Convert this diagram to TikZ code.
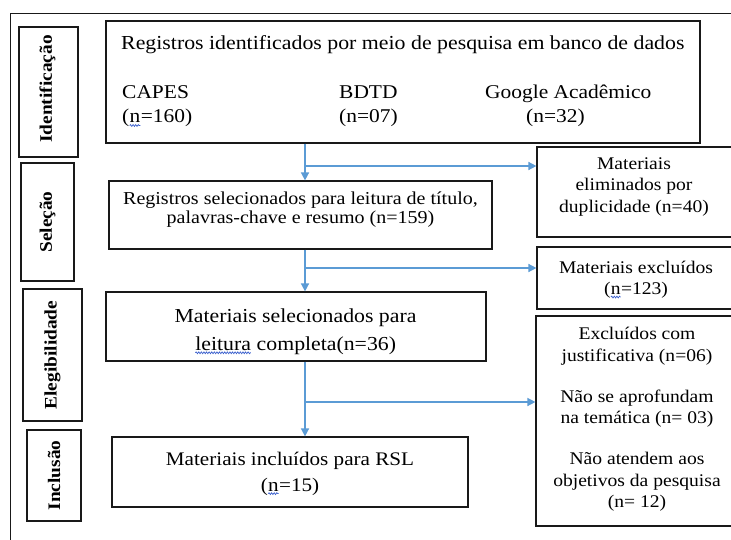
\documentclass[tikz,border=0pt]{standalone}
\usepackage{fontspec}
\setmainfont{Liberation Serif}[FakeStretch=1.1]
\usetikzlibrary{arrows.meta,decorations.pathmorphing}
\definecolor{arrowblue}{HTML}{5B9BD5}
\definecolor{squigblue}{HTML}{3A5FCD}
\newcommand\squig[2]{\tikz[baseline=(#1.base)]{\node[inner sep=0pt,outer sep=0pt] (#1) {#2};
  \draw[squigblue, line width=0.7pt, decorate, decoration={snake, amplitude=0.9pt, segment length=2.6pt}]
    ([yshift=-2.5pt]#1.base west) -- ([yshift=-2.5pt]#1.base east);}}
\begin{document}
\begin{tikzpicture}[x=1pt,y=-1pt,
  box/.style={draw=black!90, line width=1.2pt, inner sep=0pt},
  sidetxt/.style={rotate=90, inner sep=0pt, font=\fontsize{17.6}{20}\selectfont\bfseries},
  flow/.style={draw=arrowblue, line width=1.5pt, -{Triangle[length=8pt,width=8pt]}},
  txa/.style={inner sep=0pt, anchor=base west, font=\fontsize{19.5}{22}\selectfont},
  txh/.style={inner sep=0pt, anchor=base west, font=\fontsize{19.85}{22}\selectfont},
  txb/.style={inner sep=0pt, align=center, font=\fontsize{18.2}{19}\selectfont},
  txc/.style={inner sep=0pt, align=center, font=\fontsize{19.8}{28}\selectfont},
  txd/.style={inner sep=0pt, align=center, font=\fontsize{19.2}{26}\selectfont},
  txr/.style={inner sep=0pt, align=center, font=\fontsize{17.8}{21.5}\selectfont}]
\useasboundingbox (0,0) rectangle (731,540);
\clip (0,0) rectangle (731,540);
\fill[white] (0,0) rectangle (731,540);

% outer frame (right and bottom edges fall outside the picture)
\node[box, anchor=north west, minimum width=800pt, minimum height=600pt] (frame) at (10,13) {};

% stage labels
\node[box, minimum width=59pt, minimum height=130pt] (s1) at (48.5,92) {};
\node[sidetxt] (s1t) at (47.5,89) {Identificação};
\node[box, minimum width=53pt, minimum height=118pt] (s2) at (47.5,222) {};
\node[sidetxt] (s2t) at (s2.center) {Seleção};
\node[box, minimum width=59pt, minimum height=132pt] (s3) at (52.5,355) {};
\node[sidetxt] (s3t) at (s3.center) {Elegibilidade};
\node[box, minimum width=54pt, minimum height=91pt] (s4) at (54,475.5) {};
\node[sidetxt] (s4t) at (s4.center) {Inclusão};

% main flow boxes
\node[box, minimum width=594pt, minimum height=122pt] (b1) at (403,82) {};
\node[txh] (b1h) at (121,49.5) {Registros identificados por meio de pesquisa em banco de dados};
\node[txa] (c1) at (122,99) {CAPES};
\node[txa] (c1n) at (122,123) {(\squig{q1}{n}=160)};
\node[txa] (c2) at (339,99) {BDTD};
\node[txa] (c2n) at (339,123) {(n=07)};
\node[txa] (c3) at (485,99) {Google Acadêmico};
\node[txa] (c3n) at (526,123) {(n=32)};

\node[box, minimum width=383pt, minimum height=68pt] (b2) at (300.5,215) {};
\node[txb] (b2t) at (300.5,209.5) {Registros selecionados para leitura de título,\\palavras-chave e resumo (n=159)};

\node[box, minimum width=380pt, minimum height=69pt] (b3) at (296,326.5) {};
\node[txc] (b3t) at (295.5,331.5) {Materiais selecionados para\\\squig{q2}{leitura} completa(n=36)};

\node[box, minimum width=356pt, minimum height=70pt] (b4) at (290,472) {};
\node[txd] (b4t) at (290,473.5) {Materiais incluídos para RSL\\(\squig{q3}{n}=15)};

% exclusion boxes (right edges fall outside the picture)
\node[box, minimum width=198pt, minimum height=90pt] (r1) at (636,192) {};
\node[txr] (r1t) at (634,187) {Materiais\\eliminados por\\duplicidade (n=40)};
\node[box, minimum width=198pt, minimum height=62pt] (r2) at (636,278) {};
\node[txr] (r2t) at (636,279.5) {Materiais excluídos\\(\squig{q4}{n}=123)};
\node[box, minimum width=199pt, minimum height=210pt] (r3) at (635.5,421) {};
\node[txr] (r3t) at (637,419.5) {Excluídos com\\justificativa (n=06)\\[19.5pt]Não se aprofundam\\na temática (n= 03)\\[19.5pt]Não atendem aos\\objetivos da pesquisa\\(n= 12)};

% connectors
\coordinate (j1) at (305,166);
\coordinate (j2) at (305,268);
\coordinate (j3) at (305,402);
\draw[flow] (b1.south -| j1) -- (b2.north -| j1);
\draw[flow] (j1) -- (j1 -| r1.west);
\draw[flow] (b2.south -| j2) -- (b3.north -| j2);
\draw[flow] (j2) -- (j2 -| r2.west);
\draw[flow] (b3.south -| j3) -- (b4.north -| j3);
\draw[flow] (j3) -- (j3 -| r3.west);
\end{tikzpicture}
\end{document}
